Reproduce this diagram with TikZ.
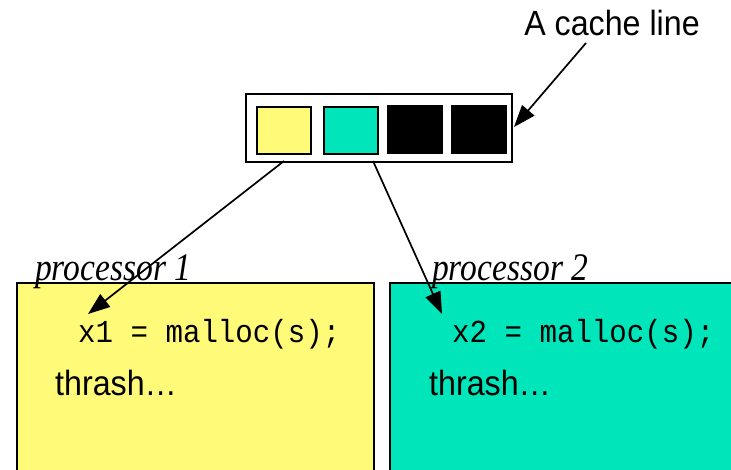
\documentclass[tikz,border=0pt]{standalone}
\usepackage{fontspec}
\setmainfont{Liberation Sans}
\newfontfamily\sanscond[FakeStretch=0.92]{Liberation Sans}
\newfontfamily\serifit[FakeStretch=0.86]{Liberation Serif}
\newfontfamily\codefont[FakeStretch=0.91]{Liberation Mono}
\usetikzlibrary{arrows.meta}
\definecolor{cyel}{RGB}{255,250,120}
\definecolor{cteal}{RGB}{0,229,185}
\begin{document}
\begin{tikzpicture}[x=1pt,y=-1pt,
  box/.style={draw=black, line width=1.8pt, inner sep=0pt, anchor=north west},
  cell/.style={box, minimum width=54pt, minimum height=47pt},
  blk/.style={box, fill=black, line width=0.6pt, minimum width=55pt, minimum height=48pt},
  proc/.style={box, minimum width=357pt, minimum height=200pt},
  plabel/.style={inner sep=0pt, anchor=base west, font=\serifit\itshape\fontsize{39}{39}\selectfont},
  code/.style={inner sep=0pt, anchor=base west, font=\codefont\fontsize{32}{32}\selectfont},
  txt/.style={inner sep=0pt, anchor=base west, font=\sanscond\fontsize{35}{35}\selectfont},
  arr/.style={-{Triangle[length=22pt,width=16pt]}, line width=1.7pt}]
\useasboundingbox (0,0) rectangle (731,469);
% processor boxes
\node[proc, fill=cyel] (p1) at (16,282) {};
\node[proc, fill=cteal, minimum width=360pt] (p2) at (389,282) {};
\node[plabel] (p1l) at (35,280) {processor 1};
\node[plabel] (p2l) at (432,280) {processor 2};
\node[code] (c1) at (78,342) {x1 = malloc(s);};
\node[code] (c2) at (452,342) {x2 = malloc(s);};
\node[txt] (t1) at (55,395) {thrash…};
\node[txt] (t2) at (429,395) {thrash…};
% cache line
\node[box, minimum width=266pt, minimum height=68pt] (line) at (245,93) {};
\node[cell, fill=cyel] (s1) at (256,106) {};
\node[cell, fill=cteal] (s2) at (323,106) {};
\node[blk] (s3) at (387,105) {};
\node[blk] (s4) at (451,105) {};
\node[inner sep=0pt, anchor=base, font=\sanscond\fontsize{35}{35}\selectfont] (lab) at (612,35) {A cache line};
% connectors
\coordinate (a1s) at (284,161);
\coordinate (a1e) at (88,314);
\coordinate (a2s) at (373,161);
\coordinate (a2e) at (442,314);
\coordinate (a3s) at (586,43);
\coordinate (a3e) at (514,127);
\draw[arr] (a1s) -- (a1e);
\draw[arr] (a2s) -- (a2e);
\draw[arr] (a3s) -- (a3e);
\end{tikzpicture}
\end{document}
